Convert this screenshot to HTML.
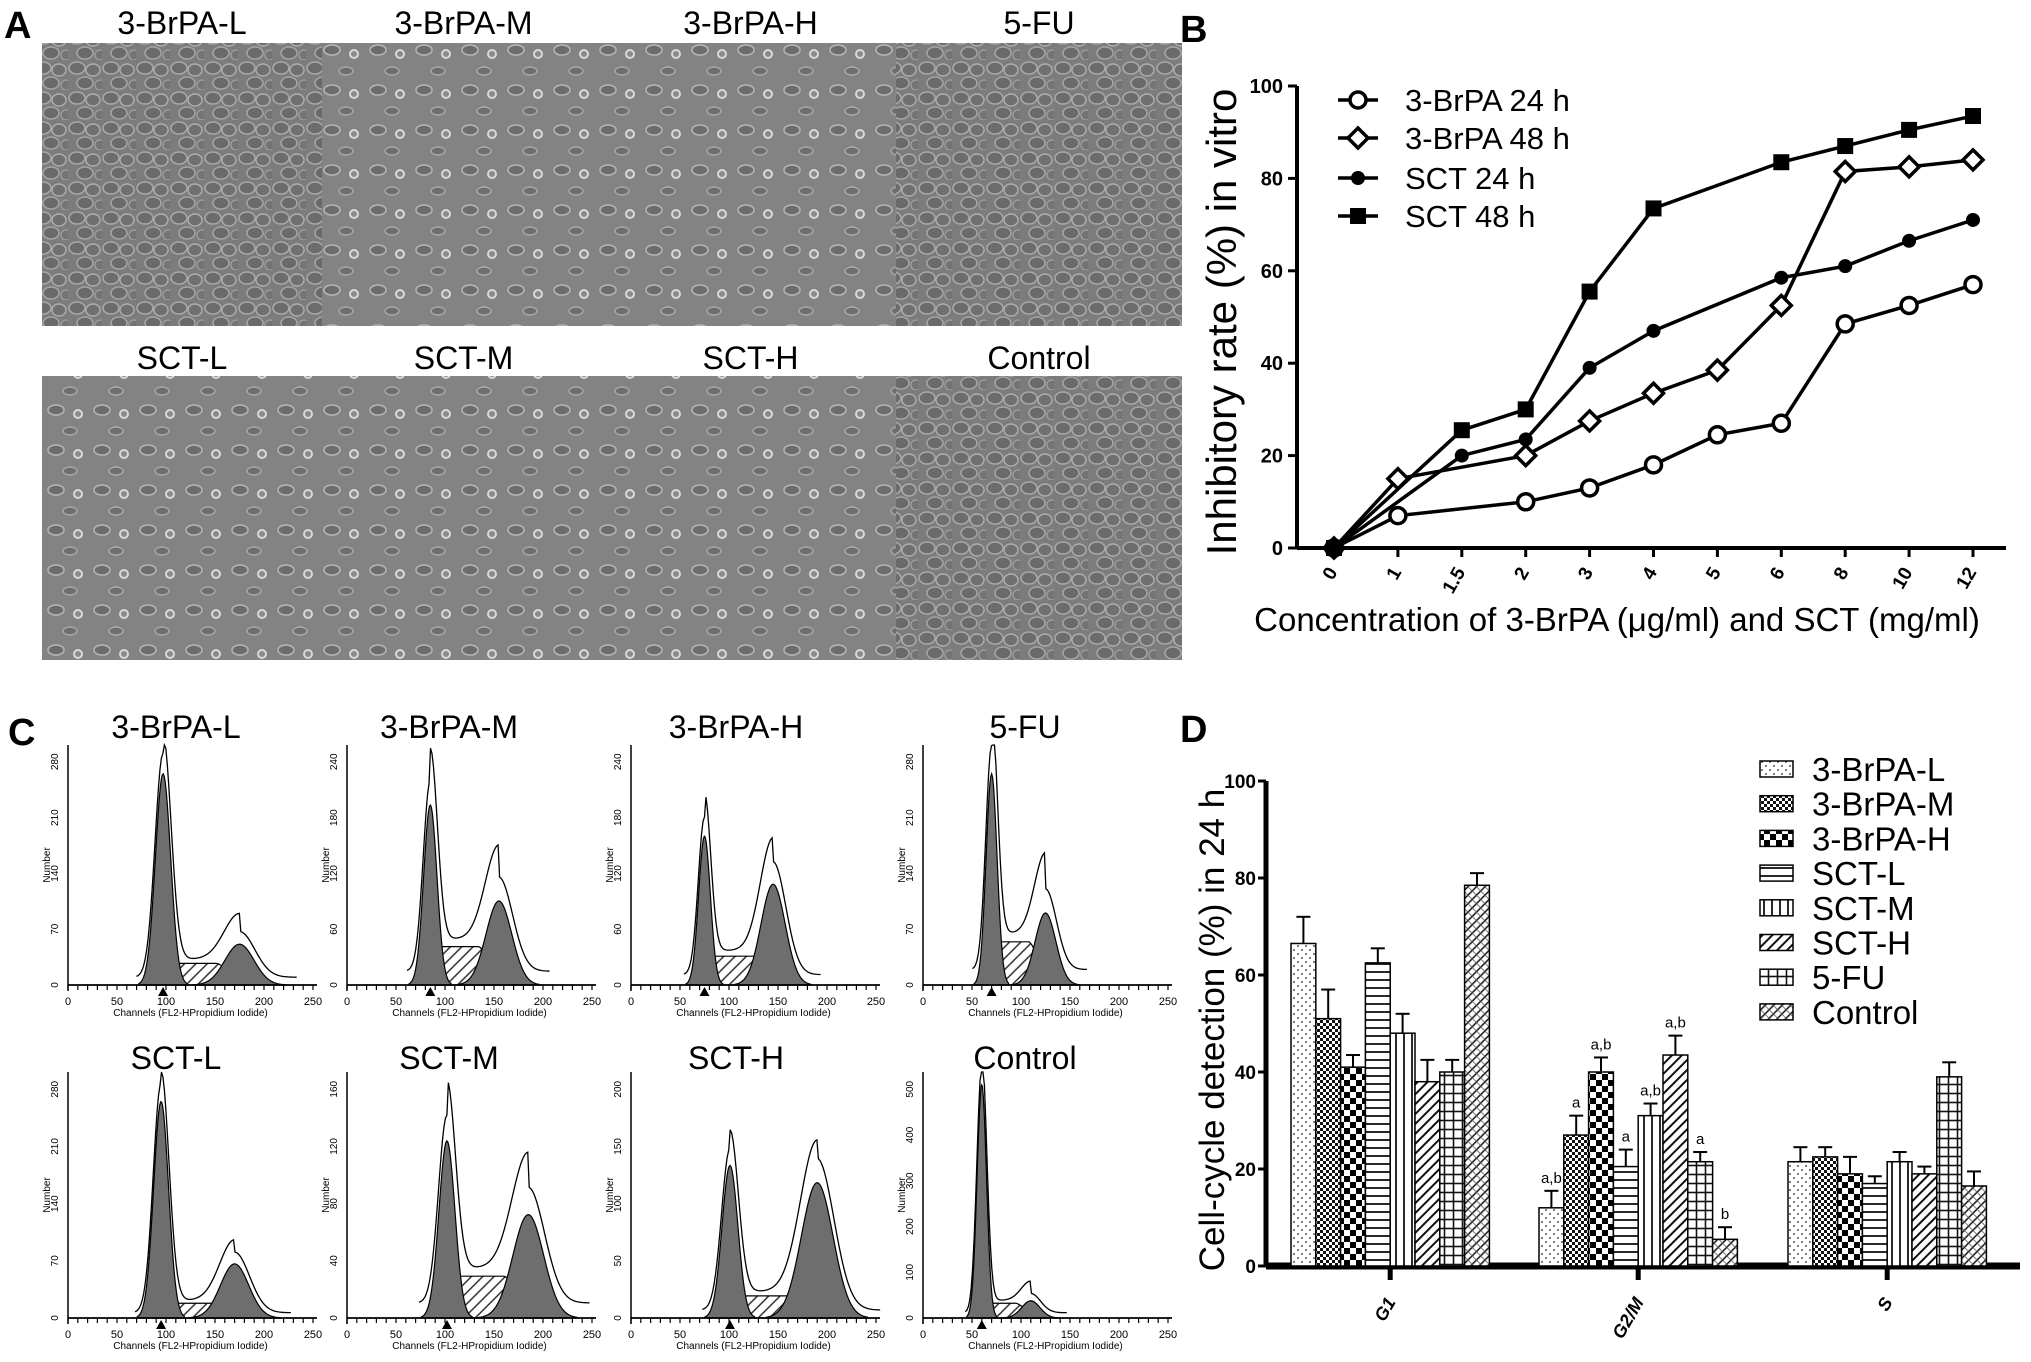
<!DOCTYPE html>
<html><head><meta charset="utf-8"><title>Figure</title>
<style>
html,body{margin:0;padding:0;background:#fff;}
svg{display:block;font-family:"Liberation Sans",Arial,sans-serif;}
</style></head>
<body>
<svg id="fig" width="2031" height="1362" viewBox="0 0 2031 1362" xmlns="http://www.w3.org/2000/svg">
<defs>
  <pattern id="cellsDense" width="34" height="30" patternUnits="userSpaceOnUse">
    <rect width="34" height="30" fill="#7c7c7c"/>
    <ellipse cx="9" cy="8" rx="8" ry="6" fill="#6c6c6c" stroke="#a8a8a8" stroke-width="1.6"/>
    <ellipse cx="25" cy="10" rx="7" ry="6" fill="#707070" stroke="#b0b0b0" stroke-width="1.4"/>
    <ellipse cx="17" cy="23" rx="8" ry="6" fill="#6a6a6a" stroke="#a4a4a4" stroke-width="1.6"/>
    <ellipse cx="32" cy="25" rx="5" ry="5" fill="#747474" stroke="#a0a0a0" stroke-width="1.2"/>
  </pattern>
  <pattern id="cellsSparse" width="46" height="40" patternUnits="userSpaceOnUse">
    <rect width="46" height="40" fill="#838383"/>
    <ellipse cx="10" cy="10" rx="8" ry="5" fill="#6c6c6c" stroke="#b4b4b4" stroke-width="1.6"/>
    <circle cx="32" cy="14" r="4" fill="#8a8a8a" stroke="#d8d8d8" stroke-width="2"/>
    <ellipse cx="24" cy="31" rx="7" ry="4" fill="#6e6e6e" stroke="#aaaaaa" stroke-width="1.4"/>
  </pattern>
  <pattern id="p0" width="8" height="8" patternUnits="userSpaceOnUse"><rect width="8" height="8" fill="#fff"/><circle cx="2" cy="2" r="0.9" fill="#222"/><circle cx="6" cy="6" r="0.9" fill="#222"/></pattern>
  <pattern id="p1" width="6" height="6" patternUnits="userSpaceOnUse"><rect width="6" height="6" fill="#fff"/><rect width="3" height="3" fill="#111"/><rect x="3" y="3" width="3" height="3" fill="#111"/></pattern>
  <pattern id="p2" width="12" height="12" patternUnits="userSpaceOnUse"><rect width="12" height="12" fill="#fff"/><rect width="6" height="6" fill="#000"/><rect x="6" y="6" width="6" height="6" fill="#000"/></pattern>
  <pattern id="p3" width="8" height="8" patternUnits="userSpaceOnUse"><rect width="8" height="8" fill="#fff"/><line x1="0" y1="4" x2="8" y2="4" stroke="#111" stroke-width="1.8"/></pattern>
  <pattern id="p4" width="8" height="8" patternUnits="userSpaceOnUse"><rect width="8" height="8" fill="#fff"/><line x1="4" y1="0" x2="4" y2="8" stroke="#111" stroke-width="1.8"/></pattern>
  <pattern id="p5" width="7" height="7" patternUnits="userSpaceOnUse" patternTransform="rotate(45)"><rect width="7" height="7" fill="#fff"/><line x1="3.5" y1="0" x2="3.5" y2="7" stroke="#111" stroke-width="2"/></pattern>
  <pattern id="p6" width="9" height="9" patternUnits="userSpaceOnUse"><rect width="9" height="9" fill="#fff"/><line x1="4.5" y1="0" x2="4.5" y2="9" stroke="#111" stroke-width="1.6"/><line x1="0" y1="4.5" x2="9" y2="4.5" stroke="#111" stroke-width="1.6"/></pattern>
  <pattern id="p7" width="6" height="6" patternUnits="userSpaceOnUse" patternTransform="rotate(45)"><rect width="6" height="6" fill="#fff"/><line x1="3" y1="0" x2="3" y2="6" stroke="#111" stroke-width="1.5"/><line x1="0" y1="3" x2="6" y2="3" stroke="#555" stroke-width="0.8"/></pattern>
  <pattern id="hatch" width="8" height="8" patternUnits="userSpaceOnUse" patternTransform="rotate(45)"><rect width="8" height="8" fill="#fff"/><line x1="4" y1="0" x2="4" y2="8" stroke="#222" stroke-width="1.4"/></pattern>
</defs>

<text x="4" y="38" font-size="38" font-weight="bold">A</text>
<text x="1180" y="42" font-size="38" font-weight="bold">B</text>
<text x="8" y="745" font-size="38" font-weight="bold">C</text>
<text x="1180" y="742" font-size="38" font-weight="bold">D</text>

<g id="panelA"></g>
<g id="panelB"></g>
<g id="panelC"></g>
<g id="panelD"></g>
</svg>

<script>
// ---------- Panel B data ----------
const bCategories = ["0","1","1.5","2","3","4","5","6","8","10","12"];
const bSeriesNames = ["3-BrPA 24 h","3-BrPA 48 h","SCT 24 h","SCT 48  h"];
const brpa24 = [0,7,null,10,13,18,24.5,27,48.5,52.5,57];
const brpa48 = [0,15,null,20,27.5,33.5,38.5,52.5,81.5,82.5,84];
const sct24  = [0,null,20,23.5,39,47,null,58.5,61,66.5,71];
const sct48  = [0,null,25.5,30,55.5,73.5,null,83.5,87,90.5,93.5];
const bYTicks = [0,20,40,60,80,100];

// ---------- Panel D data ----------
const dGroups = ["G1","G2/M","S"];
const dSeries = ["3-BrPA-L","3-BrPA-M","3-BrPA-H","SCT-L","SCT-M","SCT-H","5-FU","Control"];
const dG1  = [66.5,51,41,62.5,48,38,40,78.5];
const dG2M = [12,27,40,20.5,31,43.5,21.5,5.5];
const dS   = [21.5,22.5,19,17,21.5,19,39,16.5];
const dG1Err  = [5.5,6,2.5,3,4,4.5,2.5,2.5];
const dG2MErr = [3.5,4,3,3.5,2.5,4,2,2.5];
const dSErr   = [3,2,3.5,1.5,2,1.5,3,3];
const dG2MSig = ["a,b","a","a,b","a","a,b","a,b","a","b"];
const dYTicks = [0,20,40,60,80,100];

// ---------- Panel A data ----------
const aTitles = ["3-BrPA-L","3-BrPA-M","3-BrPA-H","5-FU","SCT-L","SCT-M","SCT-H","Control"];
const aDensity = ["dense","sparse","sparse","dense","sparse","sparse","sparse","dense"];

// ---------- Panel C data ----------
const cTitles = ["3-BrPA-L","3-BrPA-M","3-BrPA-H","5-FU","SCT-L","SCT-M","SCT-H","Control"];
const cG1Pos = [97,85,75,70,95,102,101,60];
const cG1Height = [0.88,0.75,0.62,0.88,0.88,0.72,0.62,0.95];
const cG2Pos = [175,155,145,125,170,185,190,110];
const cG2Height = [0.17,0.35,0.42,0.3,0.22,0.42,0.55,0.07];
const cSHeight = [0.09,0.16,0.12,0.18,0.06,0.17,0.09,0.06];
const cYTickLabels = [["0","70","140","210","280"],["0","60","120","180","240"],["0","60","120","180","240"],["0","70","140","210","280"],["0","70","140","210","280"],["0","40","80","120","160"],["0","50","100","150","200"],["0","100","200","300","400","500"]];

const NS = "http://www.w3.org/2000/svg";
function mk(parent, tag, attrs, txt){
  const e = document.createElementNS(NS, tag);
  for (const k in attrs) e.setAttribute(k, attrs[k]);
  if (txt !== undefined) e.textContent = txt;
  parent.appendChild(e);
  return e;
}

// ================= Panel A =================
(function(){
  const g = document.getElementById('panelA');
  const xs = [42,322,605,896,1182];
  const rows = [[43,326,23],[376,660,358]];
  for (let i=0;i<8;i++){
    const r = rows[Math.floor(i/4)], c = i%4;
    const img = mk(g,'rect',{x:xs[c],y:r[0],width:xs[c+1]-xs[c],height:r[1]-r[0],fill:aDensity[i]==='dense'?'url(#cellsDense)':'url(#cellsSparse)'});
    
    
    const t = mk(g,'text',{x:(xs[c]+xs[c+1])/2,y:r[2]+11,'font-size':32,'text-anchor':'middle'},aTitles[i]);
    
    
  }
})();

// ================= Panel B =================
(function(){
  const g = document.getElementById('panelB');
  const ax0 = 1297, y0 = 548, y100 = 86, xFirst = 1334, xLast = 1973, axEnd = 2006;
  const X = i => xFirst + i*(xLast-xFirst)/(bCategories.length-1);
  const Y = v => y0 - v*(y0-y100)/100;
  const a1 = mk(g,'line',{x1:ax0,y1:Y(100),x2:ax0,y2:y0,stroke:'#000','stroke-width':4});
   
  const a2 = mk(g,'line',{x1:ax0,y1:y0,x2:axEnd,y2:y0,stroke:'#000','stroke-width':4});
   
  bYTicks.forEach(v=>{
    mk(g,'line',{x1:ax0-9,y1:Y(v),x2:ax0,y2:Y(v),stroke:'#000','stroke-width':3});
    const t = mk(g,'text',{x:ax0-14,y:Y(v)+7,'font-size':20,'font-weight':'bold','text-anchor':'end'},String(v));
     
  });
  bCategories.forEach((c,i)=>{
    mk(g,'line',{x1:X(i),y1:y0,x2:X(i),y2:y0+9,stroke:'#000','stroke-width':3});
    const t = mk(g,'text',{x:X(i)+4,y:y0+24,'font-size':19,'font-weight':'bold','text-anchor':'end',transform:`rotate(-60 ${X(i)+4} ${y0+24})`},c);
     
  });
  const xt = mk(g,'text',{x:1617,y:631,'font-size':33,'text-anchor':'middle'},'Concentration of 3-BrPA (μg/ml) and SCT (mg/ml)');
   
  const yt = mk(g,'text',{x:1236,y:322,'font-size':42,'text-anchor':'middle',transform:'rotate(-90 1236 322)'},'Inhibitory rate (%) in vitro');
   

  function marker(p, type, x, y){
    if (type===0) return mk(p,'circle',{cx:x,cy:y,r:8,fill:'#fff',stroke:'#000','stroke-width':3.5});
    if (type===1) return mk(p,'path',{d:`M${x} ${y-10}L${x+10} ${y}L${x} ${y+10}L${x-10} ${y}Z`,fill:'#fff',stroke:'#000','stroke-width':3.5});
    if (type===2) return mk(p,'circle',{cx:x,cy:y,r:7,fill:'#000'});
    return mk(p,'rect',{x:x-8,y:y-8,width:16,height:16,fill:'#000'});
  }
  const all = [brpa24,brpa48,sct24,sct48];
  all.forEach((s,si)=>{
    const sg = mk(g,'g',{});
    
    
    let d='';
    s.forEach((v,i)=>{ if(v!==null){ d += (d?'L':'M')+X(i)+' '+Y(v); } });
    const ln = mk(sg,'path',{d:d,fill:'none',stroke:'#000','stroke-width':3.5});
     
    s.forEach((v,i)=>{ if(v!==null){
      const m = marker(sg,si,X(i),Y(v));
       
    }});
    const ly = [100,138,178,216][si];
    const lg = mk(g,'g',{});
     
    mk(lg,'line',{x1:1338,y1:ly,x2:1378,y2:ly,stroke:'#000','stroke-width':3.5});
    marker(lg,si,1358,ly);
    mk(lg,'text',{x:1405,y:ly+11,'font-size':31},bSeriesNames[si]);
  });
})();

// ================= Panel C =================
(function(){
  const g = document.getElementById('panelC');
  const lefts = [68,347,631,923];
  const rowInfo = [{base:985,top:745,title:727},{base:1318,top:1072,title:1058}];
  const titleX = [176,449,736,1025];
  const W = 245;
  function gauss(x,mu,sd){ return Math.exp(-0.5*((x-mu)/sd)*((x-mu)/sd)); }
  for (let i=0;i<8;i++){
    const r = rowInfo[Math.floor(i/4)], c = i%4, L = lefts[c];
    const pg = mk(g,'g',{});
    
    
    const t = mk(pg,'text',{x:titleX[c],y:r.title+11,'font-size':32,'text-anchor':'middle'},cTitles[i]);
     
    const H = r.base - r.top;
    const X = ch => L + ch*W/250;
    const Y = f => r.base - f*H;
    const sd1 = cG1Pos[i]*0.08, sd2 = cG2Pos[i]*0.085;
    let s='M'+X(cG1Pos[i]-sd1)+' '+r.base;
    for(let ch=cG1Pos[i]-sd1; ch<=cG2Pos[i]+sd2; ch+=2){
      const f = cSHeight[i]*Math.min(1,(ch-(cG1Pos[i]-sd1))/(sd1*2.5))*Math.min(1,((cG2Pos[i]+sd2)-ch)/(sd2*2.5));
      s+='L'+X(ch)+' '+Y(f);
    }
    s+='L'+X(cG2Pos[i]+sd2)+' '+r.base+'Z';
    mk(pg,'path',{d:s,fill:'url(#hatch)',stroke:'#000','stroke-width':1.2});
    [[cG1Pos[i],cG1Height[i],sd1],[cG2Pos[i],cG2Height[i],sd2]].forEach(p=>{
      let d='M'+X(p[0]-3.2*p[2])+' '+r.base;
      for(let ch=p[0]-3.2*p[2]; ch<=p[0]+3.2*p[2]; ch+=1) d+='L'+X(ch)+' '+Y(p[1]*gauss(ch,p[0],p[2]));
      d+='L'+X(p[0]+3.2*p[2])+' '+r.base+'Z';
      mk(pg,'path',{d:d,fill:'#6e6e6e',stroke:'#000','stroke-width':1.2});
    });
    let e='';
    for(let ch=cG1Pos[i]-3.5*sd1; ch<=cG2Pos[i]+4*sd2; ch+=1.5){
      const f = cG1Height[i]*1.06*gauss(ch,cG1Pos[i],sd1*1.05)+cG2Height[i]*1.12*gauss(ch,cG2Pos[i],sd2*1.05)+cSHeight[i]*1.2*(ch>cG1Pos[i]&&ch<cG2Pos[i]?1:0.3);
      e+=(e?'L':'M')+X(ch)+' '+Y(Math.min(f,1));
    }
    mk(pg,'path',{d:e,fill:'none',stroke:'#000','stroke-width':1.3});
    mk(pg,'line',{x1:L,y1:r.top,x2:L,y2:r.base+6,stroke:'#000','stroke-width':1.5});
    mk(pg,'line',{x1:L,y1:r.base,x2:L+W+4,y2:r.base,stroke:'#000','stroke-width':1.8});
    for(let ch=0; ch<=250; ch+=10) mk(pg,'line',{x1:X(ch),y1:r.base,x2:X(ch),y2:r.base+5,stroke:'#000','stroke-width':1.2});
    ["0","50","100","150","200","250"].forEach((lab,k)=>{
      mk(pg,'text',{x:X(k*50),y:r.base+20,'font-size':11,'text-anchor':'middle'},lab);
    });
    mk(pg,'text',{x:X(125),y:r.base+31,'font-size':10,'text-anchor':'middle'},'Channels (FL2-HPropidium Iodide)');
    const yl = cYTickLabels[i];
    yl.forEach((lab,k)=>{
      const yy = r.base - k*(H*0.93)/(yl.length-1);
      mk(pg,'text',{x:L-10,y:yy,'font-size':10,'text-anchor':'middle',transform:`rotate(-90 ${L-10} ${yy})`},lab);
    });
    mk(pg,'text',{x:L-18,y:r.base-H/2,'font-size':10,'text-anchor':'middle',transform:`rotate(-90 ${L-18} ${r.base-H/2})`},'Number');
    mk(pg,'path',{d:`M${X(cG1Pos[i])-5} ${r.base+11}L${X(cG1Pos[i])+5} ${r.base+11}L${X(cG1Pos[i])} ${r.base+2}Z`,fill:'#000'});
  }
})();

// ================= Panel D =================
(function(){
  const g = document.getElementById('panelD');
  const ax0 = 1266, y0 = 1266, y100 = 781, axEnd = 2020;
  const groupStart = [1291,1539,1788];
  const bw = 24.8;
  const Y = v => y0 - v*(y0-y100)/100;
  const vals = [dG1,dG2M,dS], errs = [dG1Err,dG2MErr,dSErr];
  const a1 = mk(g,'line',{x1:ax0,y1:Y(100),x2:ax0,y2:y0,stroke:'#000','stroke-width':5});
   
  const a2 = mk(g,'line',{x1:ax0,y1:y0,x2:axEnd,y2:y0,stroke:'#000','stroke-width':7});
   
  dYTicks.forEach(v=>{
    mk(g,'line',{x1:ax0-8,y1:Y(v),x2:ax0,y2:Y(v),stroke:'#000','stroke-width':3});
    const t = mk(g,'text',{x:ax0-10,y:Y(v)+7,'font-size':19,'font-weight':'bold','text-anchor':'end'},String(v));
     
  });
  const yt = mk(g,'text',{x:1224,y:1030,'font-size':35,'text-anchor':'middle',transform:'rotate(-90 1224 1030)'},'Cell-cycle detection (%) in 24 h');
   
  dGroups.forEach((grp,gi)=>{
    const cx = groupStart[gi] + bw*dSeries.length/2;
    mk(g,'line',{x1:cx,y1:y0,x2:cx,y2:y0+14,stroke:'#000','stroke-width':5});
    const t = mk(g,'text',{x:cx+6,y:y0+36,'font-size':18,'font-weight':'bold','font-style':'italic','text-anchor':'end',transform:`rotate(-60 ${cx+6} ${y0+36})`},grp);
     
    dSeries.forEach((s,si)=>{
      const v = vals[gi][si], e = errs[gi][si];
      const x = groupStart[gi] + si*bw;
      const ex = x + bw/2;
      mk(g,'line',{x1:ex,y1:Y(v),x2:ex,y2:Y(v+e),stroke:'#000','stroke-width':2});
      mk(g,'line',{x1:ex-7,y1:Y(v+e),x2:ex+7,y2:Y(v+e),stroke:'#000','stroke-width':2});
      const b = mk(g,'rect',{x:x,y:Y(v),width:bw,height:y0-Y(v),fill:`url(#p${si})`,stroke:'#000','stroke-width':1.5});
      
      
      if (gi===1){
        const st = mk(g,'text',{x:ex,y:Y(v+e)-8,'font-size':15,'text-anchor':'middle'},dG2MSig[si]);
         
      }
    });
  });
  dSeries.forEach((s,si)=>{
    const ly = 769 + si*34.7;
    const lg = mk(g,'g',{});
     
    mk(lg,'rect',{x:1760,y:ly-8,width:33,height:16,fill:`url(#p${si})`,stroke:'#000','stroke-width':1.5});
    mk(lg,'text',{x:1812,y:ly+12,'font-size':33},s);
  });
})();
</script>
</body></html>
